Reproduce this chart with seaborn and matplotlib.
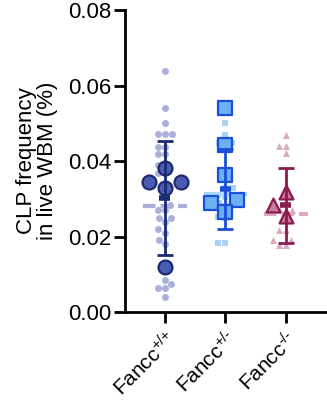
"""
CLP frequency superplot: per-mouse replicates (small) and per-mouse means (large)
"""
import numpy as np
import pandas as pd
import matplotlib
matplotlib.use("Agg")
import matplotlib.pyplot as plt
import seaborn as sns

groups = ["Fancc$^{\\text{+/+}}$", "Fancc$^{\\text{+/-}}$", "Fancc$^{\\text{-/-}}$"]

# individual measurements (small markers)
wt_small = [0.0639, 0.0540, 0.0500, 0.0471, 0.0471, 0.0471, 0.0438, 0.0438,
            0.0419, 0.0419, 0.0389, 0.0389, 0.0369, 0.0369, 0.0283, 0.0270,
            0.0270, 0.0250, 0.0250, 0.0239, 0.0219, 0.0210, 0.0190, 0.0180,
            0.0085, 0.0074, 0.0064, 0.0064, 0.0041]
het_small = [0.0500, 0.0469, 0.0447, 0.0447, 0.0440, 0.0328, 0.0328, 0.0310,
             0.0310, 0.0305, 0.0305, 0.0290, 0.0280, 0.0252, 0.0248, 0.0182,
             0.0182]
ko_small = [0.0469, 0.0440, 0.0440, 0.0420, 0.0290, 0.0270, 0.0270, 0.0260,
            0.0217, 0.0217, 0.0190, 0.0190, 0.0178, 0.0178]
# mean line of the individual measurements
small_mean = [0.0281, 0.0313, 0.0259]

# per-animal means (large markers)
wt_big = [0.0381, 0.0345, 0.0345, 0.0329, 0.0120]
het_big = [0.0541, 0.0442, 0.0363, 0.0297, 0.0290, 0.0266]
ko_big = [0.0319, 0.0283, 0.0255]

# group mean and SD shown as error bars
bar_mean = [0.0303, 0.0325, 0.0283]
bar_sd = [0.0151, 0.0106, 0.0099]

small_colors = ["#aab0d9", "#a9d4f6", "#dcaabf"]
big_fill = ["#4a5bb2", "#6cb0f2", "#c97b9e"]
dark = ["#1c2a72", "#1a4fd8", "#8c1b50"]
markers = ["o", "s", "^"]

plt.rcParams["font.family"] = ["Liberation Sans", "DejaVu Sans"]
plt.rcParams["mathtext.fontset"] = "custom"
plt.rcParams["mathtext.rm"] = "Liberation Sans"
plt.rcParams["mathtext.it"] = "Liberation Sans"
plt.rcParams["mathtext.bf"] = "Liberation Sans"

small_df = pd.concat([
    pd.DataFrame({"group": g, "value": v})
    for g, v in zip(groups, [wt_small, het_small, ko_small])
])
big_df = pd.concat([
    pd.DataFrame({"group": g, "value": v})
    for g, v in zip(groups, [wt_big, het_big, ko_big])
])

fig = plt.figure(figsize=(3.27, 4.05), dpi=100)
ax = fig.add_axes([0.382, 0.2296, 0.618, 0.7457])

for i, g in enumerate(groups):
    sub = small_df[small_df.group == g]
    sns.swarmplot(data=sub, x="group", y="value", order=groups, ax=ax,
                  color=small_colors[i], marker=markers[i], size=5,
                  linewidth=0, zorder=1)
    ax.hlines(small_mean[i], i - 0.36, i + 0.36, color=small_colors[i],
              lw=3, linestyles=(0, (3, 1.2)), zorder=2)

for i, g in enumerate(groups):
    sub = big_df[big_df.group == g]
    sns.swarmplot(data=sub, x="group", y="value", order=groups, ax=ax,
                  color=big_fill[i], marker=markers[i], size=10,
                  edgecolor=dark[i], linewidth=1.6, zorder=3)

for i in range(len(groups)):
    ax.errorbar(i, bar_mean[i], yerr=bar_sd[i], color=dark[i], lw=2,
                capsize=5.5, capthick=2, zorder=4)
    ax.hlines(bar_mean[i], i - 0.09, i + 0.09, color=dark[i], lw=4, zorder=4)

ax.set_xlim(-0.66, 2.68)
ax.set_ylim(0, 0.08)
ax.set_yticks([0, 0.02, 0.04, 0.06, 0.08])
ax.set_yticklabels(["0.00", "0.02", "0.04", "0.06", "0.08"])
ax.set_xlabel("")
ax.set_ylabel("CLP frequency\nin live WBM (%)", fontsize=16, labelpad=7,
              linespacing=1.0)
ax.set_xticks(range(3))
ax.set_xticklabels(groups, rotation=45, ha="right", rotation_mode="anchor",
                   fontsize=15)
ax.tick_params(axis="y", labelsize=16, width=2, length=8, pad=2)
ax.tick_params(axis="x", width=2, length=8, pad=3)
for s in ["top", "right"]:
    ax.spines[s].set_visible(False)
for s in ["left", "bottom"]:
    ax.spines[s].set_linewidth(2)

fig.savefig("out.png", dpi=100)
